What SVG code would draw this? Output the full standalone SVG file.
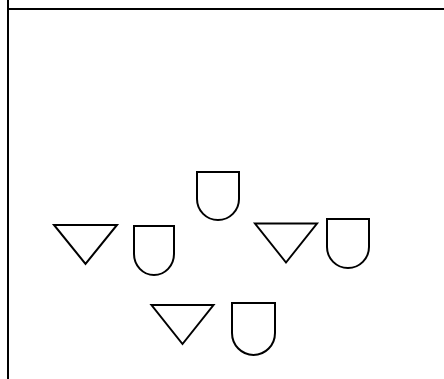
<svg xmlns="http://www.w3.org/2000/svg" width="444" height="379" viewBox="0 0 444 379">
<style>
.s{fill:#fff;stroke:#000;stroke-width:2;stroke-linejoin:miter}
.b{stroke:#000;stroke-width:2;fill:none}
</style>
<rect width="444" height="379" fill="#fff"/>
<g id="frame">
<line class="b" x1="8" y1="0" x2="8" y2="379"/>
<line class="b" x1="8" y1="9" x2="444" y2="9"/>
</g>
<g id="tri1"><polygon class="s" points="54,225 117,225 85.5,264"/></g>
<g id="gate1"><path class="s" d="M134,226 H174 V254 A20,21 0 0 1 134,254 Z"/></g>
<g id="gate2"><path class="s" d="M197,172 H239 V199 A21,21 0 0 1 197,199 Z"/></g>
<g id="tri2"><polygon class="s" points="255,223.5 317,223.5 286,262.5"/></g>
<g id="gate3"><path class="s" d="M327,219 H369 V247 A21,21 0 0 1 327,247 Z"/></g>
<g id="tri3"><polygon class="s" points="151.5,305 213.5,305 182.5,344"/></g>
<g id="gate4"><path class="s" d="M232,303 H275 V333 A21.5,22 0 0 1 232,333 Z"/></g>
<g id="connectors"></g>
</svg>
